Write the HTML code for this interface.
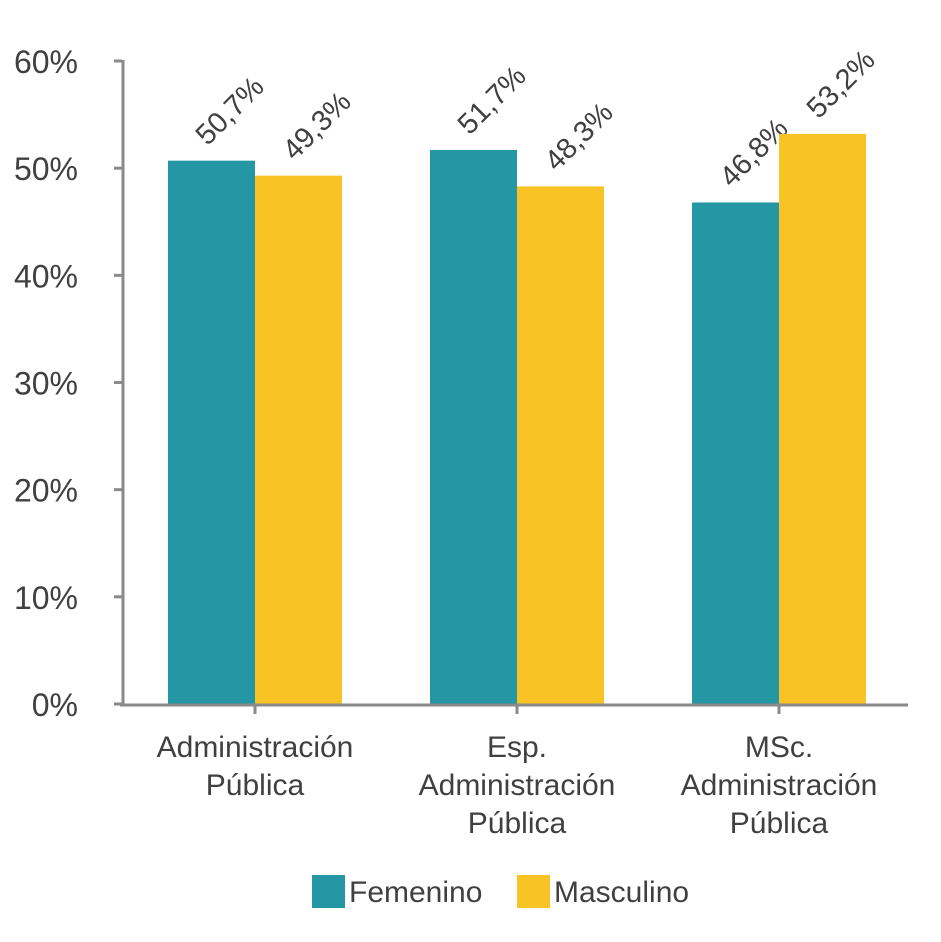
<!DOCTYPE html>
<html><head><meta charset="utf-8"><style>
body{margin:0;background:#fff;}
svg text{font-family:"Liberation Sans",sans-serif;fill:#404040;}
</style></head><body>
<svg id="chart" width="941" height="937" xmlns="http://www.w3.org/2000/svg"></svg>
<script>
const categories=[["Administración","Pública"],["Esp.","Administración","Pública"],["MSc.","Administración","Pública"]];
const femenino=[50.7,51.7,46.8];
const masculino=[49.3,48.3,53.2];
const yTicks=[0,10,20,30,40,50,60];
const seriesNames=["Femenino","Masculino"];
const colors=["#2596a3","#f7c325"];
const svg=document.getElementById('chart');
const NS="http://www.w3.org/2000/svg";
const x0=122,x1=908,y0=704,yTop=61,yMax=60;
const y=v=>y0-(v/yMax)*(y0-yTop);
const gw=(x1-x0)/categories.length;
const gc=i=>x0+gw*(i+0.5)+2;
const bw=87;
function el(t,a,p){const e=document.createElementNS(NS,t);for(const k in a)e.setAttribute(k,a[k]);(p||svg).appendChild(e);return e;}
yTicks.forEach(t=>{
  const tx=el('text',{x:78,y:y(t)+12,'text-anchor':'end','font-size':32});
  tx.textContent=t+'%';
  
  
  const tk=el('line',{x1:114,x2:122,y1:y(t),y2:y(t),stroke:'#8a8a8a','stroke-width':3});
  
  
});
[femenino,masculino].forEach((s,si)=>{
  s.forEach((v,i)=>{
    const bx=gc(i)-bw+si*bw;
    const r=el('rect',{x:bx,y:y(v),width:bw,height:y0-y(v),fill:colors[si]});
    
    
    const cx=bx+bw/2-4,cy=y(v)-14;
    const t=el('text',{x:cx,y:cy,'font-size':29,transform:`rotate(-45 ${cx} ${cy})`});
    t.textContent=v.toFixed(1).replace('.',',')+'%';
    
    
  });
});
const ax=el('path',{d:`M123 60 V705 M120 705 H${x1}`,stroke:'#8a8a8a','stroke-width':3,fill:'none'});


categories.forEach((c,i)=>{
  const tk=el('line',{x1:gc(i),x2:gc(i),y1:705,y2:714,stroke:'#8a8a8a','stroke-width':3});
  
  
  c.forEach((line,j)=>{
    const t=el('text',{x:gc(i),y:757+j*38,'text-anchor':'middle','font-size':30});
    t.textContent=line;
    
    
  });
});
const lx=[312,517];
seriesNames.forEach((n,i)=>{
  const r=el('rect',{x:lx[i],y:875,width:33,height:33,fill:colors[i]});
  
  
  const t=el('text',{x:lx[i]+37,y:902,'font-size':30});
  t.textContent=n;
  
  
});
</script>
</body></html>
